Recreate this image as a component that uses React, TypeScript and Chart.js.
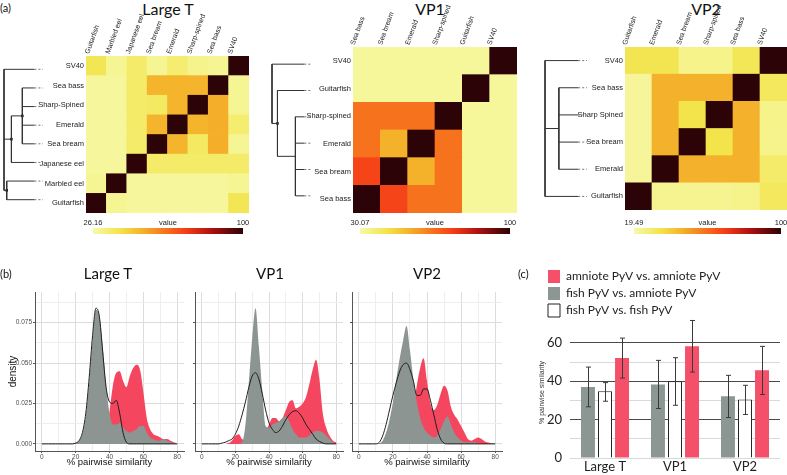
import React, { useEffect, useRef } from 'react';
import { Chart, registerables } from 'chart.js';

Chart.register(...registerables);
Chart.defaults.font.family = "'Liberation Sans', Arial, sans-serif";

// ---------------- (a) heatmaps ----------------
const largeTRows = ['SV40', 'Sea bass', 'Sharp-Spined', 'Emerald', 'Sea bream', 'Japanese eel', 'Marbled eel', 'Guitarfish'];
const largeTCols = ['Guitarfish', 'Marbled eel', 'Japanese eel', 'Sea bream', 'Emerald', 'Sharp-spined', 'Sea bass', 'SV40'];
const largeTValues = [
  [38, 29, 35, 29, 34, 30, 29, 100],
  [28, 28, 35, 50, 50, 50, 100, 29],
  [28, 28, 35, 36, 50, 100, 51, 29],
  [28, 28, 35, 50, 100, 50, 51, 34],
  [28, 28, 35, 100, 50, 36, 51, 29],
  [28, 28, 100, 35, 35, 35, 35, 35],
  [29, 100, 28, 28, 28, 28, 28, 29],
  [100, 29, 28, 28, 28, 28, 28, 38],
];
const largeTRange = [26.16, 100];
const largeTTree: any = {
  h: 0,
  c: [
    'SV40',
    { h: 0.19, dot: true, c: [{ h: 0.47, dot: true, c: ['Sea bass', 'Sharp-Spined', 'Emerald', 'Sea bream'] }, 'Japanese eel'] },
    { h: 0.07, dot: true, c: ['Marbled eel', 'Guitarfish'] },
  ],
};

const vp1Rows = ['SV40', 'Guitarfish', 'Sharp-spined', 'Emerald', 'Sea bream', 'Sea bass'];
const vp1Cols = ['Sea bass', 'Sea bream', 'Emerald', 'Sharp-spined', 'Guitarfish', 'SV40'];
const vp1Values = [
  [32, 32, 32, 32, 32, 100],
  [32, 32, 32, 32, 100, 32],
  [64, 64, 64, 100, 32, 32],
  [64, 53, 100, 64, 32, 32],
  [72, 100, 53, 64, 32, 32],
  [100, 72, 64, 64, 32, 32],
];
const vp1Range = [30.07, 100];
const vp1Tree: any = {
  h: 0,
  c: ['SV40', { h: 0.14, dot: true, c: ['Guitarfish', { h: 0.6, c: ['Sharp-spined', 'Emerald', 'Sea bream', 'Sea bass'] }] }],
};

const vp2Rows = ['SV40', 'Sea bass', 'Sharp Spined', 'Sea bream', 'Emerald', 'Guitarfish'];
const vp2Cols = ['Guitarfish', 'Emerald', 'Sea bream', 'Sharp-spined', 'Sea bass', 'SV40'];
const vp2Values = [
  [33, 33, 24, 24, 32, 100],
  [22, 46, 46, 46, 100, 31],
  [22, 46, 34, 100, 46, 24],
  [22, 46, 100, 34, 46, 24],
  [22, 100, 46, 46, 46, 29],
  [100, 23, 23, 23, 24, 31],
];
const vp2Range = [19.49, 100];
const vp2Tree: any = {
  h: 0,
  c: ['SV40', { h: 0.33, c: ['Sea bass', 'Sharp Spined', 'Sea bream', 'Emerald'] }, 'Guitarfish'],
};

// ---------------- (b) densities ----------------
const similarity = [0, 2, 4, 6, 8, 10, 12, 14, 16, 18, 20, 22, 24, 26, 28, 30, 32, 34, 36, 38, 40, 42, 44, 46, 48, 50, 52, 54, 56, 58, 60, 62, 64, 66, 68, 70, 72, 74, 76, 78, 80];

const largeTFishAmniote = [0, 0, 0, 0, 0, 0, 0, 0, 0, 0, 0.0005, 0.002, 0.006, 0.017, 0.038, 0.064, 0.083, 0.079, 0.06, 0.036, 0.019, 0.012, 0.012, 0.013, 0.01, 0.008, 0.007, 0.008, 0.009, 0.011, 0.011, 0.007, 0.004, 0.003, 0.002, 0.002, 0.003, 0.002, 0.001, 0.0005, 0];
const largeTAmniote = [0, 0, 0, 0, 0, 0, 0, 0, 0, 0, 0, 0, 0, 0, 0, 0, 0.001, 0.002, 0.004, 0.008, 0.02, 0.036, 0.044, 0.045, 0.039, 0.035, 0.042, 0.047, 0.049, 0.046, 0.032, 0.016, 0.009, 0.006, 0.005, 0.004, 0.003, 0.003, 0.002, 0.001, 0];
const largeTFishFish = [0, 0, 0, 0, 0, 0, 0, 0, 0, 0, 0.0005, 0.002, 0.007, 0.019, 0.041, 0.067, 0.084, 0.079, 0.057, 0.035, 0.026, 0.025, 0.027, 0.019, 0.007, 0.001, 0, 0, 0, 0, 0, 0, 0, 0, 0, 0, 0, 0, 0, 0, 0];

const vp1FishAmniote = [0, 0, 0, 0, 0, 0, 0, 0, 0, 0, 0, 0, 0.001, 0.012, 0.038, 0.065, 0.084, 0.06, 0.033, 0.011, 0.01, 0.012, 0.013, 0.014, 0.016, 0.017, 0.014, 0.009, 0.006, 0.004, 0.004, 0.004, 0.005, 0.007, 0.008, 0.008, 0.007, 0.005, 0.003, 0.001, 0];
const vp1Amniote = [0, 0, 0, 0, 0, 0, 0, 0, 0.0005, 0.002, 0.005, 0.006, 0.003, 0.002, 0.002, 0.002, 0.002, 0.003, 0.005, 0.008, 0.012, 0.016, 0.016, 0.014, 0.016, 0.021, 0.026, 0.027, 0.022, 0.023, 0.025, 0.029, 0.037, 0.046, 0.052, 0.04, 0.019, 0.01, 0.005, 0.002, 0.001];
const vp1FishFish = [0, 0, 0, 0, 0, 0, 0.0005, 0.001, 0.002, 0.003, 0.006, 0.011, 0.018, 0.026, 0.035, 0.042, 0.044, 0.04, 0.031, 0.021, 0.013, 0.009, 0.007, 0.008, 0.011, 0.015, 0.018, 0.02, 0.0205, 0.019, 0.016, 0.012, 0.009, 0.006, 0.003, 0.0015, 0.0005, 0, 0, 0, 0];

const vp2FishAmniote = [0, 0, 0, 0, 0, 0, 0.0005, 0.002, 0.007, 0.015, 0.026, 0.04, 0.053, 0.064, 0.073, 0.058, 0.04, 0.026, 0.016, 0.01, 0.007, 0.005, 0.004, 0.005, 0.009, 0.014, 0.017, 0.012, 0.007, 0.004, 0.002, 0.001, 0.001, 0.001, 0.001, 0.0005, 0, 0, 0, 0, 0];
const vp2Amniote = [0, 0, 0, 0, 0, 0, 0, 0, 0, 0, 0, 0, 0, 0, 0.003, 0.01, 0.022, 0.036, 0.047, 0.053, 0.039, 0.025, 0.021, 0.024, 0.031, 0.036, 0.033, 0.023, 0.018, 0.015, 0.011, 0.007, 0.003, 0.002, 0.003, 0.004, 0.003, 0.0015, 0.0008, 0.0003, 0];
const vp2FishFish = [0, 0, 0, 0, 0, 0, 0.001, 0.005, 0.012, 0.021, 0.03, 0.038, 0.045, 0.049, 0.05, 0.046, 0.039, 0.03, 0.03, 0.034, 0.034, 0.027, 0.018, 0.009, 0.003, 0.0005, 0, 0, 0, 0, 0, 0, 0, 0, 0, 0, 0, 0, 0, 0, 0];

// ---------------- (c) bars ----------------
const barCategories = ['Large T', 'VP1', 'VP2'];
const fishAmnioteMean = [37.0, 38.3, 32.2];
const fishAmnioteLow = [26.7, 25.8, 21.1];
const fishAmnioteHigh = [47.4, 50.9, 43.1];
const fishFishMean = [34.8, 40.0, 30.5];
const fishFishLow = [29.6, 27.5, 22.7];
const fishFishHigh = [39.3, 52.3, 37.9];
const amnioteMean = [52.1, 58.2, 45.7];
const amnioteLow = [41.7, 44.8, 33.1];
const amnioteHigh = [62.5, 71.7, 58.2];

// ---------------- styles ----------------
const heatStops: [number, string][] = [
  [0.0, '#f7f9ab'],
  [0.08, '#f4f07c'],
  [0.18, '#f3e44c'],
  [0.32, '#f4b52c'],
  [0.48, '#f6741d'],
  [0.62, '#f63c18'],
  [0.8, '#a80f0f'],
  [1.0, '#2c0306'],
];
const RED = '#f4506a';
const GREY = '#8c9693';
const RED_D = '#f4475f';
const GREY_D = '#8d9592';

function hexToRgb(h: string) {
  return [parseInt(h.slice(1, 3), 16), parseInt(h.slice(3, 5), 16), parseInt(h.slice(5, 7), 16)];
}
function heatColor(v: number, range: number[]) {
  const t = Math.max(0, Math.min(1, (v - range[0]) / (range[1] - range[0])));
  for (let i = 0; i < heatStops.length - 1; i++) {
    const [t0, c0] = heatStops[i];
    const [t1, c1] = heatStops[i + 1];
    if (t <= t1) {
      const f = (t - t0) / (t1 - t0);
      const a = hexToRgb(c0);
      const b = hexToRgb(c1);
      const m = a.map((x, k) => Math.round(x + (b[k] - x) * f));
      return `rgb(${m[0]},${m[1]},${m[2]})`;
    }
  }
  return heatStops[heatStops.length - 1][1];
}

const zeroPad = (s: any) => {
  s.paddingTop = 0;
  s.paddingBottom = 0;
  s.paddingLeft = 0;
  s.paddingRight = 0;
};
const fixW = (w: number) => (s: any) => {
  s.width = w;
  zeroPad(s);
};
const fixH = (h: number) => (s: any) => {
  s.height = h;
  zeroPad(s);
};

// ---------------- config builders ----------------
function heatmapConfig(rows: string[], cols: string[], values: number[][], range: number[], yW: number, xH: number, labelOffset: number) {
  const n = rows.length;
  const bottomUp = rows.map((_, i) => n - 1 - i);
  return {
    type: 'bar',
    data: {
      labels: cols,
      datasets: bottomUp.map((ri) => ({
        label: rows[ri],
        data: cols.map(() => 1),
        backgroundColor: values[ri].map((v) => heatColor(v, range)),
        borderWidth: 0,
        barPercentage: 1,
        categoryPercentage: 1,
      })),
    },
    options: {
      responsive: false,
      animation: false,
      events: [],
      layout: { padding: 0 },
      plugins: { legend: { display: false }, tooltip: { enabled: false } },
      scales: {
        x: {
          type: 'category',
          position: 'top',
          stacked: true,
          grid: { display: false, drawTicks: false },
          border: { display: false },
          ticks: { autoSkip: false, minRotation: 70, maxRotation: 70, padding: 1, labelOffset, font: { size: 7 }, color: '#222' },
          afterFit: fixH(xH),
        },
        y: {
          type: 'linear',
          stacked: true,
          min: 0,
          max: n,
          grid: { display: false, drawTicks: false },
          border: { display: false },
          afterBuildTicks: (s: any) => {
            s.ticks = rows.map((_, i) => ({ value: i + 0.5 }));
          },
          ticks: {
            autoSkip: false,
            padding: 2,
            font: { size: 7.5 },
            color: '#222',
            callback: (v: number) => rows[n - 1 - Math.floor(v)],
          },
          afterFit: fixW(yW),
        },
      },
    },
  };
}

function treeSegments(tree: any, rows: string[], tip: number) {
  const solid: number[][] = [];
  const dashed: number[][] = [];
  const dots: { x: number; y: number }[] = [];
  const walk = (node: any): number => {
    if (typeof node === 'string') return rows.indexOf(node);
    const ys = node.c.map(walk);
    node.c.forEach((ch: any, i: number) => {
      if (typeof ch === 'string') {
        solid.push([node.h, ys[i], tip, ys[i]]);
        dashed.push([tip, ys[i], 1, ys[i]]);
      } else {
        solid.push([node.h, ys[i], ch.h, ys[i]]);
      }
    });
    solid.push([node.h, ys[0], node.h, ys[ys.length - 1]]);
    const y = (ys[0] + ys[ys.length - 1]) / 2;
    if (node.dot) dots.push({ x: node.h, y });
    return y;
  };
  walk(tree);
  return { solid, dashed, dots };
}

function dendroConfig(tree: any, rows: string[], tip: number, padL: number, padR: number) {
  const { solid, dashed, dots } = treeSegments(tree, rows, tip);
  const seg = (s: number[], dash: boolean) => ({
    data: [
      { x: s[0], y: s[1] },
      { x: s[2], y: s[3] },
    ],
    showLine: true,
    borderColor: dash ? '#777' : '#333',
    borderWidth: 1,
    borderDash: dash ? [2, 2] : [],
    pointRadius: 0,
    clip: false,
  });
  return {
    type: 'scatter',
    data: {
      datasets: [
        ...solid.map((s) => seg(s, false)),
        ...dashed.map((s) => seg(s, true)),
        { data: dots, pointRadius: 1.8, pointStyle: 'rect', pointBackgroundColor: '#111', pointBorderWidth: 0, showLine: false, clip: false },
      ],
    },
    options: {
      responsive: false,
      animation: false,
      events: [],
      layout: { padding: { left: padL, right: padR, top: 0, bottom: 0 } },
      plugins: { legend: { display: false }, tooltip: { enabled: false } },
      scales: {
        x: { type: 'linear', min: 0, max: 1, display: false },
        y: { type: 'linear', min: -0.5, max: rows.length - 0.5, reverse: true, display: false },
      },
    },
  };
}

function colorbarConfig(range: number[], padL: number, padR: number) {
  const [lo, hi] = range;
  return {
    type: 'bar',
    data: {
      labels: [''],
      datasets: [
        {
          data: [[lo, hi]],
          backgroundColor: (ctx: any) => {
            const ca = ctx.chart.chartArea;
            if (!ca) return '#fff';
            const g = ctx.chart.ctx.createLinearGradient(ca.left, 0, ca.right, 0);
            heatStops.forEach(([t, c]) => g.addColorStop(t, c));
            return g;
          },
          borderWidth: 0,
          barPercentage: 1,
          categoryPercentage: 0.75,
        },
      ],
    },
    options: {
      indexAxis: 'y',
      responsive: false,
      animation: false,
      events: [],
      layout: { padding: { left: padL, right: padR, top: 0, bottom: 0 } },
      plugins: { legend: { display: false }, tooltip: { enabled: false } },
      scales: {
        x: {
          type: 'linear',
          position: 'top',
          min: lo,
          max: hi,
          grid: { display: false, drawTicks: false },
          border: { display: false },
          afterBuildTicks: (s: any) => {
            s.ticks = [{ value: lo }, { value: (lo + hi) / 2 }, { value: hi }];
          },
          ticks: {
            autoSkip: false,
            maxRotation: 0,
            padding: 0,
            font: { size: 7.5 },
            color: '#222',
            callback: (_v: number, i: number) => (i === 1 ? 'value' : i === 0 ? lo.toFixed(2) : String(hi)),
          },
          afterFit: fixH(11),
        },
        y: { display: false },
      },
    },
  };
}

const major20 = (v: number) => Math.abs(v % 20) < 1e-6;
const majorY = (v: number) => Math.round(v / 0.0125) % 2 === 0;

function densityConfig(amniote: number[], fishAmniote: number[], fishFish: number[], showY: boolean, yW: number) {
  const pts = (arr: number[]) => similarity.map((x, i) => ({ x, y: arr[i] }));
  return {
    type: 'line',
    data: {
      datasets: [
        { data: pts(fishFish), borderColor: '#1e1e1e', borderWidth: 1, fill: false },
        { data: pts(fishAmniote), backgroundColor: GREY_D, borderColor: 'rgba(0,0,0,0)', borderWidth: 0, fill: 'origin' },
        { data: pts(amniote), backgroundColor: RED_D, borderColor: 'rgba(0,0,0,0)', borderWidth: 0, fill: 'origin' },
        { data: pts(fishFish), backgroundColor: '#ffffff', borderColor: 'rgba(0,0,0,0)', borderWidth: 0, fill: 'origin' },
      ],
    },
    options: {
      responsive: false,
      animation: false,
      events: [],
      layout: { padding: { top: 7, right: 6, left: 0, bottom: 0 } },
      elements: { point: { radius: 0 }, line: { cubicInterpolationMode: 'monotone' } },
      plugins: { legend: { display: false }, tooltip: { enabled: false } },
      scales: {
        x: {
          type: 'linear',
          min: -4,
          max: 84,
          ticks: {
            stepSize: 10,
            includeBounds: false,
            autoSkip: false,
            maxRotation: 0,
            padding: 0,
            font: { size: 6.5 },
            color: '#4d4d4d',
            callback: (v: number) => (major20(v) ? String(v) : ''),
          },
          grid: {
            color: (c: any) => (major20(c.tick.value) ? '#dcdcdc' : '#eeeeee'),
            tickColor: (c: any) => (major20(c.tick.value) ? '#555' : 'rgba(0,0,0,0)'),
            tickLength: 2,
          },
          border: { color: '#555' },
          title: { display: true, text: '% pairwise similarity', font: { size: 9.5 }, color: '#111', padding: { top: 0, bottom: 7 } },
          afterFit: fixH(24),
        },
        y: {
          type: 'linear',
          min: -0.0044,
          max: 0.094,
          ticks: {
            stepSize: 0.0125,
            includeBounds: false,
            autoSkip: false,
            padding: 1,
            font: { size: 6.5 },
            color: '#4d4d4d',
            callback: (v: number) => (showY && majorY(v) ? v.toFixed(3) : ''),
          },
          grid: {
            color: (c: any) => (majorY(c.tick.value) ? '#dcdcdc' : '#eeeeee'),
            tickColor: (c: any) => (majorY(c.tick.value) ? '#555' : 'rgba(0,0,0,0)'),
            tickLength: 2,
          },
          border: { color: '#555' },
          title: { display: showY, text: 'density', font: { size: 10 }, color: '#111', padding: { top: 7, bottom: 0 } },
          afterFit: fixW(yW),
        },
      },
    },
  };
}

const errorBarPlugin = {
  id: 'errorBars',
  afterDatasetsDraw(chart: any) {
    const { ctx } = chart;
    const y = chart.scales.y;
    chart.data.datasets.forEach((ds: any, di: number) => {
      const meta = chart.getDatasetMeta(di);
      meta.data.forEach((bar: any, i: number) => {
        const x = Math.round(bar.x) + 0.5;
        const yt = y.getPixelForValue(ds.errHigh[i]);
        const yb = y.getPixelForValue(ds.errLow[i]);
        ctx.save();
        ctx.strokeStyle = '#3a3a3a';
        ctx.lineWidth = 1;
        ctx.beginPath();
        ctx.moveTo(x, yt);
        ctx.lineTo(x, yb);
        ctx.moveTo(x - 2.5, yt);
        ctx.lineTo(x + 2.5, yt);
        ctx.moveTo(x - 2.5, yb);
        ctx.lineTo(x + 2.5, yb);
        ctx.stroke();
        ctx.restore();
      });
    });
  },
};

function barConfig() {
  const rank: Record<number, number> = { 2: 0, 0: 1, 1: 2 };
  return {
    type: 'bar',
    data: {
      labels: barCategories,
      datasets: [
        { label: 'fish PyV vs. amniote PyV', data: fishAmnioteMean, errLow: fishAmnioteLow, errHigh: fishAmnioteHigh, backgroundColor: GREY, borderWidth: 0 },
        { label: 'fish PyV vs. fish PyV', data: fishFishMean, errLow: fishFishLow, errHigh: fishFishHigh, backgroundColor: '#ffffff', borderColor: '#222', borderWidth: 1 },
        { label: 'amniote PyV vs. amniote PyV', data: amnioteMean, errLow: amnioteLow, errHigh: amnioteHigh, backgroundColor: RED, borderWidth: 0 },
      ],
    },
    plugins: [errorBarPlugin],
    options: {
      responsive: false,
      animation: false,
      events: [],
      barPercentage: 0.82,
      categoryPercentage: 0.73,
      layout: { padding: { top: 4, left: 6, right: 7, bottom: 0 } },
      plugins: {
        tooltip: { enabled: false },
        legend: {
          position: 'top',
          align: 'start',
          labels: {
            boxWidth: 12,
            boxHeight: 13,
            padding: 4,
            color: '#222',
            font: { family: 'Lato', size: 12 },
            sort: (a: any, b: any) => rank[a.datasetIndex] - rank[b.datasetIndex],
          },
        },
      },
      scales: {
        x: {
          grid: { display: false, drawTicks: false },
          border: { display: false },
          ticks: { padding: 1, color: '#222', font: { family: 'Lato', size: 13 } },
          afterFit: fixH(17),
        },
        y: {
          min: 0,
          max: 68.3,
          grid: {
            color: (c: any) => ([20, 40, 60].includes(c.tick.value) ? '#4a4a4a' : '#d9d9d9'),
            drawTicks: false,
          },
          border: { display: false },
          ticks: {
            stepSize: 10,
            includeBounds: false,
            padding: 8,
            color: '#222',
            font: { family: 'Lato', size: 13 },
            callback: (v: number) => (v % 20 === 0 ? String(v) : ''),
          },
          title: { display: true, text: '% pairwise similarity', font: { size: 7 }, color: '#333', padding: { top: -6, bottom: 0 } },
          afterFit: fixW(26),
        },
      },
    },
  };
}

// ---------------- components ----------------
function ChartBox({ left, top, width, height, make }: { left: number; top: number; width: number; height: number; make: () => any }) {
  const ref = useRef<HTMLCanvasElement>(null);
  useEffect(() => {
    const chart = new Chart(ref.current as HTMLCanvasElement, make());
    return () => chart.destroy();
  }, []);
  return <canvas ref={ref} width={width} height={height} style={{ position: 'absolute', left, top, width, height }} />;
}

function Text({ x, y, size, text, align = 'center' }: { x: number; y: number; size: number; text: string; align?: string }) {
  const lh = Math.round(size * 1.2);
  const style: any = {
    position: 'absolute',
    top: y - lh / 2,
    height: lh,
    lineHeight: `${lh}px`,
    fontSize: size,
    fontFamily: 'Lato, sans-serif',
    color: '#111',
    whiteSpace: 'nowrap',
  };
  if (align === 'center') {
    style.left = x - 100;
    style.width = 200;
    style.textAlign = 'center';
  } else {
    style.left = x;
  }
  return <div style={style}>{text}</div>;
}

export default function App() {
  return (
    <div style={{ position: 'fixed', left: 0, top: 0, width: 787, height: 475, background: '#fff', overflow: 'hidden' }}>
      {/* (a) */}
      <Text x={0} y={7} size={11} text="(a)" align="left" />
      <Text x={168} y={8} size={16} text="Large T" />
      <Text x={430} y={8} size={16} text="VP1" />
      <Text x={706} y={8} size={16} text="VP2" />

      <ChartBox left={36} top={8} width={213} height={205} make={() => heatmapConfig(largeTRows, largeTCols, largeTValues, largeTRange, 50, 48, -1)} />
      <ChartBox left={0} top={56} width={47} height={157} make={() => dendroConfig(largeTTree, largeTRows, 0.78, 2, 2)} />
      <ChartBox left={78} top={216} width={180} height={19} make={() => colorbarConfig(largeTRange, 15, 15)} />

      <ChartBox left={300} top={2} width={217} height={211} make={() => heatmapConfig(vp1Rows, vp1Cols, vp1Values, vp1Range, 53, 45, -6)} />
      <ChartBox left={268} top={47} width={47} height={166} make={() => dendroConfig(vp1Tree, vp1Rows, 0.83, 2, 3)} />
      <ChartBox left={345} top={216} width={180} height={19} make={() => colorbarConfig(vp1Range, 15, 15)} />

      <ChartBox left={575} top={2} width={212} height={208} make={() => heatmapConfig(vp2Rows, vp2Cols, vp2Values, vp2Range, 50, 45, -6)} />
      <ChartBox left={543} top={47} width={47} height={163} make={() => dendroConfig(vp2Tree, vp2Rows, 0.79, 2, 3)} />
      <ChartBox left={619} top={216} width={168} height={19} make={() => colorbarConfig(vp2Range, 15, 6)} />

      {/* (b) */}
      <Text x={0} y={273} size={11} text="(b)" align="left" />
      <Text x={108} y={273} size={15} text="Large T" />
      <Text x={270} y={273} size={15} text="VP1" />
      <Text x={427} y={273} size={15} text="VP2" />
      <ChartBox left={0} top={285} width={190} height={190} make={() => densityConfig(largeTAmniote, largeTFishAmniote, largeTFishFish, true, 35)} />
      <ChartBox left={190} top={285} width={159} height={190} make={() => densityConfig(vp1Amniote, vp1FishAmniote, vp1FishFish, false, 5)} />
      <ChartBox left={347} top={285} width={161} height={190} make={() => densityConfig(vp2Amniote, vp2FishAmniote, vp2FishFish, false, 5)} />

      {/* (c) */}
      <Text x={518} y={273} size={11} text="(c)" align="left" />
      <ChartBox left={538} top={262} width={249} height={213} make={barConfig} />
    </div>
  );
}
